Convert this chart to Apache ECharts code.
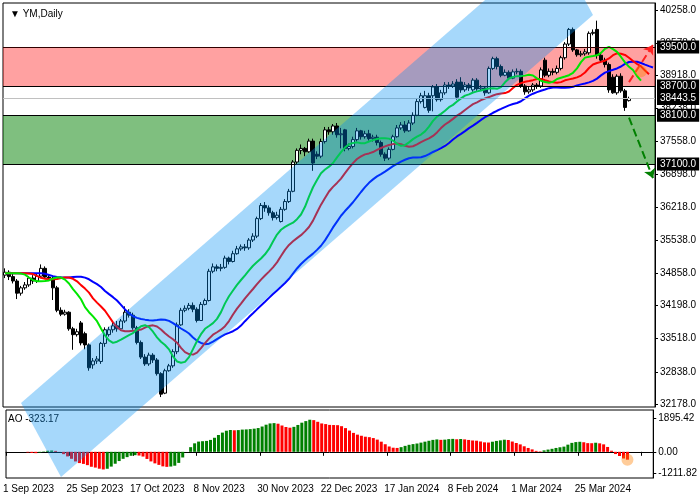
<!DOCTYPE html>
<html><head><meta charset="utf-8">
<script src="https://cdn.jsdelivr.net/npm/echarts@6/dist/echarts.min.js"></script>
<style>html,body{margin:0;padding:0;background:#fff}#c{width:700px;height:500px}</style>
</head><body><div id="c"></div>
<script>
// [open, close, low, high]
const candles = [
[34820,34880,34760,34960],[34880,34790,34720,34920],[34790,34700,34650,34850],[34700,34450,34330,34740],
[34450,34560,34400,34600],[34560,34620,34520,34680],[34620,34760,34580,34800],[34760,34700,34640,34820],
[34700,34800,34660,34860],[34800,34960,34760,35040],[34960,34780,34740,35000],[34780,34760,34700,34830],
[34760,34560,34310,34800],[34560,34100,34060,34600],[34100,34020,33980,34160],[34020,34060,33990,34110],
[34060,33720,33680,34080],[33720,33600,33290,33760],[33600,33660,33560,33720],[33840,33430,33380,33880],
[33620,33390,33300,33660],[33390,32920,32860,33420],[32980,33060,32900,33120],[33060,33100,33000,33160],
[33050,33420,33000,33450],[33420,33700,33350,33750],[33600,33700,33560,33760],[33700,33780,33640,33840],
[33780,33720,33660,33880],[33720,33880,33680,33920],[33880,34060,33840,34180],[34060,34000,33950,34120],
[34000,33740,33700,34050],[33740,33440,33400,33780],[33440,33140,33100,33480],[33140,33000,32960,33200],
[33000,33180,32960,33230],[33180,33080,33020,33220],[33080,32800,32760,33120],[32800,32380,32320,32830],
[32400,32860,32380,32900],[32860,32960,32840,33000],[32960,33250,32920,33300],[33250,33800,33200,33850],
[33800,34100,33780,34150],[34100,34140,34060,34200],[34140,34200,34100,34250],[34200,34120,34060,34260],
[34120,33890,33850,34160],[33890,34220,33880,34270],[34220,34300,34200,34340],[34300,34900,34280,34950],
[34900,34990,34860,35060],[34990,34960,34900,35040],[34960,34980,34900,35050],[34980,35170,34950,35220],
[35170,35100,35040,35200],[35100,35260,35080,35320],[35260,35360,35240,35420],[35360,35400,35320,35450],
[35400,35380,35320,35460],[35380,35540,35340,35580],[35540,35620,35500,35680],[35620,35980,35580,36020],
[35980,36250,35950,36300],[36250,36200,36120,36320],[36200,36100,36040,36250],[36100,36000,35940,36140],
[36000,36050,35960,36120],[35920,36170,35900,36220],[36170,36330,36140,36380],[36330,36540,36300,36590],
[36540,37140,36520,37180],[37140,37380,37100,37420],[37380,37420,37300,37500],[37420,37350,37260,37450],
[37350,37570,37330,37620],[37570,37120,36960,37620],[37300,37260,37200,37360],[37260,37560,37220,37620],
[37560,37800,37520,37860],[37800,37760,37700,37860],[37760,37880,37700,37920],[37880,37700,37640,37940],
[37700,37720,37420,37840],[37800,37420,37360,37820],[37420,37460,37380,37520],[37460,37600,37420,37660],
[37600,37780,37560,37840],[37780,37660,37600,37800],[37660,37720,37620,37780],[37720,37620,37580,37800],
[37620,37650,37560,37700],[37650,37540,37480,37700],[37540,37300,37250,37580],[37300,37220,37160,37340],
[37220,37400,37180,37440],[37400,37660,37380,37700],[37660,37840,37640,37900],[37840,37900,37800,37960],
[37900,37780,37740,37980],[37780,37940,37760,38000],[37940,38100,37900,38160],[38100,38380,38080,38440],
[38380,38500,38340,38560],[38260,38500,38240,38600],[38500,38200,38150,38560],[38500,38680,38180,38720],
[38680,38420,38380,38740],[38420,38560,38380,38620],[38560,38720,38520,38780],[38720,38700,38640,38780],
[38700,38740,38660,38800],[38780,38470,38420,38840],[38780,38620,38560,38880],[38620,38720,38580,38780],
[38720,38660,38600,38760],[38620,38820,38580,38860],[38820,38640,38600,38860],[38640,38660,38600,38720],
[38660,38560,38500,38700],[38560,39060,38540,39100],[39060,39260,39030,39300],[39260,39100,39040,39300],
[39100,38920,38880,39140],[38920,38980,38900,39040],[38980,38860,38820,39020],[38860,38990,38840,39040],
[38990,39000,38940,39060],[39000,38700,38660,39040],[38700,38580,38520,38740],[38580,38620,38540,38680],
[38620,38720,38580,38760],[38720,38700,38640,38760],[38700,39030,38660,39080],[39230,38920,38880,39280],
[38920,39000,38880,39060],[39000,38980,38920,39060],[38980,39060,38940,39120],[39060,39280,39020,39320],
[39280,39560,39240,39600],[39560,39860,39520,39890],[39860,39440,39400,39900],[39440,39340,39300,39460],
[39340,39360,39300,39420],[39360,39400,39320,39460],[39380,39780,39340,39820],[39780,39800,39740,39860],
[39860,39330,39260,40040],[39330,39230,39180,39380],[39230,39140,39080,39280],[39140,38620,38560,39180],
[38880,38560,38540,38940],[38560,38900,38520,38940],[38900,38600,38560,38960],[38600,38260,38190,38640],
[38400,38443.5,38380,38480]
];
const priceTicks = [40258,39578,38918,38238,37558,36898,36218,35538,34858,34198,33518,32838,32178];
const aoTicks = [1895.42, 0, -1211.82];
const redZone = [38700, 39500];
const greenZone = [37100, 38100];
const lastPrice = 38443.5;
// channel corners [categoryIndex, price]
const channel = [[4.25,32198],[14.25,30680],[146.75,40155],[136.75,41673]];
const upArrow = [[155.75,38780],[161.75,39540]];
const downArrow = [[156,38050],[161.75,36810]];
const extraSlots = 6;

const MON=['Jan','Feb','Mar','Apr','May','Jun','Jul','Aug','Sep','Oct','Nov','Dec'];
const holidays=['2023-12-25','2024-01-01'];
const cats=[];
{ let d=new Date(2023,8,1);
  while(cats.length<candles.length){
    const wd=d.getDay();
    const key=d.getFullYear()+'-'+String(d.getMonth()+1).padStart(2,'0')+'-'+String(d.getDate()).padStart(2,'0');
    if(wd!==0&&wd!==6&&holidays.indexOf(key)<0) cats.push(d.getDate()+' '+MON[d.getMonth()]+' '+d.getFullYear());
    d.setDate(d.getDate()+1);
  }
  for(let i=0;i<extraSlots;i++) cats.push('');
}
const N=cats.length;
const med=candles.map(c=>(c[2]+c[3])/2);
function smmaShift(n,shift){
  const s=[];let v=med[0];
  for(let i=0;i<med.length;i++){ v= i===0?med[0]:(v*(n-1)+med[i])/n; s.push(v); }
  const out=new Array(N).fill(null);
  for(let i=0;i<N;i++){ const j=i-shift; if(j>=0&&j<s.length) out[i]=+s[j].toFixed(1); else if(j<0) out[i]=s[0]; }
  return out;
}
const jaw=smmaShift(13,8), teeth=smmaShift(8,5), lips=smmaShift(5,3);
function sma(i,n){let s=0,k=0;for(let j=Math.max(0,i-n+1);j<=i;j++){s+=med[j];k++;}return s/k;}
const ao=med.map((_,i)=>+(sma(i,5)-sma(i,34)).toFixed(2));
const aoData=ao.map((v,i)=>({value:v,itemStyle:{color:(i>0&&v>ao[i-1])?'#008000':'#ff0000'}}));

const FF='Liberation Sans';
const chart=echarts.init(document.getElementById('c'));
const lbl={fontSize:10,color:'#000',fontFamily:FF};
const boxLabel=(t)=>({show:true,position:'end',formatter:t,backgroundColor:'#000',color:'#fff',fontSize:10,fontFamily:FF,padding:[2,3,1,3],distance:2});
chart.setOption({
  animation:false,
  title:{text:'▼ YM,Daily',left:5,top:4,textStyle:{fontSize:10,fontWeight:'normal',color:'#000',fontFamily:FF}},
  graphic:[{type:'text',left:8,top:414,style:{text:'AO -323.17',fontSize:10,fill:'#000',fontFamily:FF}}],
  grid:[
    {left:3,right:45,top:3,height:404,show:true,borderColor:'#000',borderWidth:1,backgroundColor:'transparent'},
    {left:3,right:45,top:410,height:68,show:true,borderColor:'#000',borderWidth:1}
  ],
  xAxis:[
    {type:'category',data:cats,gridIndex:0,boundaryGap:true,axisLine:{show:false},axisTick:{show:false},axisLabel:{show:false}},
    {type:'category',data:cats,gridIndex:1,boundaryGap:true,axisLine:{lineStyle:{color:'#000'}},
     axisTick:{show:true,interval:(i)=>i%16===0,length:4,lineStyle:{color:'#000'}},
     axisLabel:Object.assign({interval:(i)=>i%16===0,align:'left',margin:6,padding:[0,0,0,-5]},lbl)}
  ],
  yAxis:[
    {type:'value',gridIndex:0,position:'right',min:32116,max:40402,splitLine:{show:false},
     axisLine:{show:true,lineStyle:{color:'#000'}},axisTick:{show:true,length:3,customValues:priceTicks,lineStyle:{color:'#000'}},
     axisLabel:Object.assign({customValues:priceTicks,formatter:v=>v.toFixed(1),margin:5},lbl)},
    {type:'value',gridIndex:1,position:'right',min:-1469,max:2347,splitLine:{show:false},
     axisLine:{show:true,lineStyle:{color:'#000'}},axisTick:{show:true,length:3,customValues:aoTicks,lineStyle:{color:'#000'}},
     axisLabel:Object.assign({customValues:aoTicks,formatter:v=>v.toFixed(2),margin:5},lbl)}
  ],
  series:[
    {type:'candlestick',xAxisIndex:0,yAxisIndex:0,data:candles,barWidth:3,z:2,
     itemStyle:{color:'#fff',color0:'#000',borderColor:'#000',borderColor0:'#000',borderWidth:1}},
    {type:'line',xAxisIndex:0,yAxisIndex:0,data:jaw,showSymbol:false,z:3,lineStyle:{color:'#0000ff',width:2}},
    {type:'line',xAxisIndex:0,yAxisIndex:0,data:teeth,showSymbol:false,z:3,lineStyle:{color:'#ff0000',width:2}},
    {type:'line',xAxisIndex:0,yAxisIndex:0,data:lips,showSymbol:false,z:3,lineStyle:{color:'#00e600',width:2}},
    {type:'bar',xAxisIndex:1,yAxisIndex:1,data:aoData,barWidth:3,z:2},
    {type:'custom',xAxisIndex:0,yAxisIndex:0,z:5,clip:false,data:[0],silent:true,
     renderItem:(p,api)=>({type:'polygon',shape:{points:channel.map(c=>api.coord(c))},style:{fill:'rgba(0,143,243,0.35)'}})},
    {type:'line',xAxisIndex:0,yAxisIndex:0,data:new Array(N).fill(null),z:6,silent:true,
     markArea:{silent:true,data:[
       [{yAxis:redZone[0],itemStyle:{color:'rgba(255,0,0,0.37)'}},{yAxis:redZone[1]}],
       [{yAxis:greenZone[0],itemStyle:{color:'rgba(0,128,0,0.5)'}},{yAxis:greenZone[1]}]
     ]},
     markLine:{silent:true,symbol:'none',data:[
       {yAxis:lastPrice,lineStyle:{color:'#c0c0c0',width:1,type:'solid'},label:boxLabel(lastPrice.toFixed(1))},
       {yAxis:redZone[1],lineStyle:{color:'#300000',width:1,type:'solid'},label:boxLabel(redZone[1].toFixed(1))},
       {yAxis:redZone[0],lineStyle:{color:'#000',width:1,type:'solid'},label:boxLabel(redZone[0].toFixed(1))},
       {yAxis:greenZone[1],lineStyle:{color:'#000',width:1,type:'solid'},label:boxLabel(greenZone[1].toFixed(1))},
       {yAxis:greenZone[0],lineStyle:{color:'#000',width:1,type:'solid'},label:boxLabel(greenZone[0].toFixed(1))}
     ]}},
    {type:'line',xAxisIndex:0,yAxisIndex:0,data:new Array(N).fill(null),z:7,silent:true,clip:false,
     markLine:{silent:true,symbol:['none','arrow'],symbolSize:9,label:{show:false},data:[
       [{coord:upArrow[0]},{coord:upArrow[1],lineStyle:{color:'#ff2020',width:2,type:'dashed'}}],
       [{coord:downArrow[0]},{coord:downArrow[1],lineStyle:{color:'#008000',width:2,type:'dashed'}}]
     ]}},
    {type:'scatter',xAxisIndex:0,yAxisIndex:0,z:7,symbolSize:12,data:[[159.25,39000]],itemStyle:{color:'rgba(255,128,0,0.5)'}},
    {type:'scatter',xAxisIndex:1,yAxisIndex:1,z:7,symbolSize:12,data:[[candles.length-1,ao[ao.length-1]]],itemStyle:{color:'rgba(255,128,0,0.5)'}}
  ]
});
</script></body></html>
